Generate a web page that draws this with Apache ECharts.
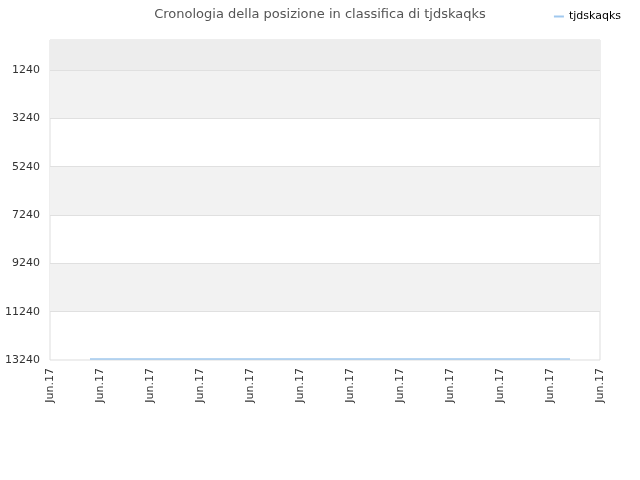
<!DOCTYPE html>
<html><head><meta charset="utf-8">
<script src="https://cdn.jsdelivr.net/npm/echarts@6/dist/echarts.min.js"></script>
<style>html,body{margin:0;padding:0;background:#fff}#c{width:640px;height:480px}</style>
</head><body><div id="c"></div>
<script>
const xLabels = ["Jun.17","Jun.17","Jun.17","Jun.17","Jun.17","Jun.17","Jun.17","Jun.17","Jun.17","Jun.17","Jun.17","Jun.17"];
const yTicks = [1240, 3240, 5240, 7240, 9240, 11240, 13240];
const seriesName = "tjdskaqks";
const seriesX = [0.8, 10.4];
const seriesY = [13200, 13200];
const yMin = 0, yMax = 13240;
const bandTop = [0, 1240];
const grayBands = [[1240, 3240], [5240, 7240], [9240, 11240]];

const chart = echarts.init(document.getElementById('c'), null, {renderer: 'canvas'});
const font = 'DejaVu Sans';
const markAreaData = [[{yAxis: bandTop[0], itemStyle: {color: '#ededed'}}, {yAxis: bandTop[1]}]]
  .concat(grayBands.map(b => [{yAxis: b[0], itemStyle: {color: '#f2f2f2'}}, {yAxis: b[1]}]));
chart.setOption({
  animation: false,
  textStyle: {fontFamily: font},
  title: {text: 'Cronologia della posizione in classifica di tjdskaqks', left: 'center', top: 3,
    textStyle: {fontFamily: font, fontSize: 13, fontWeight: 'normal', color: '#555'}},
  legend: {right: 14, top: 6, itemWidth: 10, itemHeight: 2, itemGap: 5, icon: 'rect',
    textStyle: {fontFamily: font, fontSize: 11, color: '#000'},
    data: [{name: seriesName, itemStyle: {color: '#a0c8ee'}}]},
  grid: {left: 50, right: 40, top: 40, bottom: 120, show: true, borderColor: '#dddddd', borderWidth: 1},
  xAxis: {type: 'value', min: 0, max: xLabels.length - 1, interval: 1,
    axisLine: {show: false}, axisTick: {show: false}, splitLine: {show: false},
    axisLabel: {rotate: 90, margin: 8, fontSize: 11, color: '#333', fontFamily: font,
      formatter: v => xLabels[Math.round(v)] || ''}},
  yAxis: {type: 'value', inverse: true, min: yMin, max: yMax,
    axisLine: {show: false}, axisTick: {show: false}, splitLine: {show: false},
    axisLabel: {customValues: yTicks, margin: 10, fontSize: 11, color: '#333', fontFamily: font,
      formatter: v => String(v)}},
  series: [{
    name: seriesName, type: 'line', data: seriesX.map((x, i) => [x, seriesY[i]]),
    symbol: 'none', lineStyle: {color: '#a0c8ee', width: 1.5}, itemStyle: {color: '#a0c8ee'},
    z: 5,
    markArea: {silent: true, data: markAreaData},
    markLine: {silent: true, symbol: 'none', label: {show: false},
      lineStyle: {color: '#e0e0e0', type: 'solid', width: 1},
      data: yTicks.slice(0, -1).map(v => ({yAxis: v}))}
  }]
});
</script></body></html>
